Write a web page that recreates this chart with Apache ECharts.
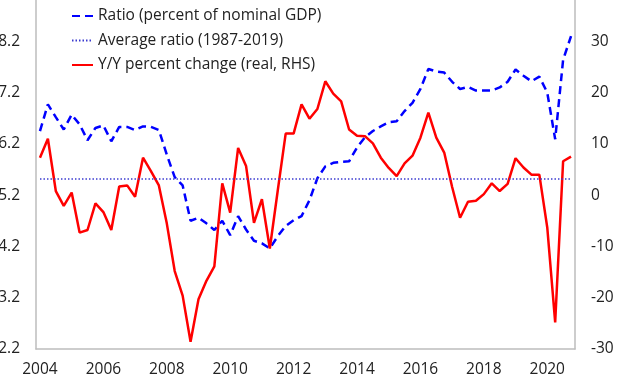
<!DOCTYPE html>
<html>
<head>
<meta charset="utf-8">
<script src="https://cdn.jsdelivr.net/npm/echarts@6/dist/echarts.min.js"></script>
<style>
  html, body { margin: 0; padding: 0; background: #ffffff; }
  #chart { width: 618px; height: 383px; }
</style>
</head>
<body>
<div id="chart"></div>
<script>
// Quarterly categories, 2004 Q1 through 2020 Q4
const firstYear = 2004;
const lastYear = 2020;
const quarters = [];
for (let y = firstYear; y <= lastYear; y++) {
  for (let q = 1; q <= 4; q++) quarters.push(y + 'Q' + q);
}

// Ratio (percent of nominal GDP), left axis
const ratio = [
  6.45, 6.97, 6.72, 6.48, 6.77, 6.58, 6.27, 6.51,
  6.56, 6.25, 6.53, 6.53, 6.47, 6.54, 6.53, 6.47,
  5.99, 5.55, 5.39, 4.70, 4.76, 4.65, 4.52, 4.70,
  4.42, 4.79, 4.53, 4.31, 4.26, 4.16, 4.40, 4.60,
  4.71, 4.79, 5.10, 5.53, 5.76, 5.83, 5.85, 5.86,
  6.13, 6.33, 6.45, 6.54, 6.62, 6.64, 6.84, 7.00,
  7.27, 7.66, 7.61, 7.59, 7.41, 7.27, 7.31, 7.24,
  7.24, 7.24, 7.30, 7.41, 7.65, 7.53, 7.42, 7.51,
  7.20, 6.29, 7.84, 8.30
];

// Average ratio, 1987-2019
const averageRatio = 5.52;

// Y/Y percent change (real), right axis
const yoyChange = [
  7.3, 11.0, 0.8, -2.1, 0.5, -7.3, -6.8, -1.6,
  -3.3, -6.8, 1.7, 1.9, -0.3, 7.3, 4.7, 1.9,
  -5.5, -14.8, -19.6, -28.6, -20.3, -16.7, -13.9, 2.3,
  -3.4, 9.2, 5.7, -5.4, -0.8, -10.4, 0.9, 12.0,
  12.0, 17.7, 14.9, 16.8, 22.2, 19.8, 18.3, 12.8,
  11.6, 11.5, 10.1, 7.3, 5.3, 3.7, 6.2, 7.7,
  11.2, 16.1, 11.2, 8.3, 1.6, -4.4, -1.3, -1.1,
  0.2, 2.3, 0.8, 2.2, 7.2, 5.4, 4.0, 4.0,
  -6.3, -24.8, 6.6, 7.5
];

// Tick labels
const leftTicks = [2.2, 3.2, 4.2, 5.2, 6.2, 7.2, 8.2];
const rightTicks = [-30, -20, -10, 0, 10, 20, 30];

const FONT = 'Open Sans';
const TEXT = '#222222';
const AXIS = '#bdbdbd';

const chart = echarts.init(document.getElementById('chart'), null, { renderer: 'canvas' });

chart.setOption({
  animation: false,
  backgroundColor: '#ffffff',
  textStyle: { fontFamily: FONT },
  grid: { left: 36, right: 43, top: -10, bottom: 34, outerBoundsMode: 'none', containLabel: false },
  legend: {
    orient: 'vertical',
    left: 71,
    top: 8,
    padding: 0,
    itemWidth: 21,
    itemHeight: 10,
    itemGap: 8.5,
    itemStyle: { opacity: 0 },
    textStyle: { fontFamily: FONT, fontSize: 15.5, color: TEXT },
    data: ['Ratio (percent of nominal GDP)', 'Average ratio (1987-2019)', 'Y/Y percent change (real, RHS)']
  },
  xAxis: {
    type: 'category',
    data: quarters,
    boundaryGap: true,
    axisLine: { onZero: false, lineStyle: { color: AXIS, width: 1.5 } },
    axisTick: { show: false },
    splitLine: { show: false },
    axisLabel: {
      interval: (index) => index % 8 === 0,
      formatter: (value) => value.slice(0, 4),
      fontFamily: FONT,
      fontSize: 15.5,
      color: TEXT,
      margin: 13
    }
  },
  yAxis: [
    {
      type: 'value',
      min: 2.2,
      max: 9.2,
      position: 'left',
      axisLine: { show: true, onZero: false, lineStyle: { color: AXIS, width: 1.5 } },
      axisTick: { show: false },
      splitLine: { show: false },
      axisLabel: {
        customValues: leftTicks,
        formatter: (v) => v.toFixed(1),
        fontFamily: FONT,
        fontSize: 15.5,
        color: TEXT,
        margin: 16
      }
    },
    {
      type: 'value',
      min: -30,
      max: 40,
      position: 'right',
      axisLine: { show: true, onZero: false, lineStyle: { color: AXIS, width: 1.5 } },
      axisTick: { show: false },
      splitLine: { show: false },
      axisLabel: {
        customValues: rightTicks,
        formatter: (v) => String(v),
        fontFamily: FONT,
        fontSize: 15.5,
        color: TEXT,
        margin: 16
      }
    }
  ],
  series: [
    {
      name: 'Ratio (percent of nominal GDP)',
      type: 'line',
      yAxisIndex: 0,
      data: ratio,
      symbol: 'none',
      color: '#0000ff',
      lineStyle: { color: '#0000ff', width: 2.5, type: [8, 5] },
      z: 3
    },
    {
      name: 'Average ratio (1987-2019)',
      type: 'line',
      yAxisIndex: 0,
      data: [],
      symbol: 'none',
      color: '#3a3ad0',
      lineStyle: { color: '#3a3ad0', width: 1.5, type: [1.5, 2] },
      markLine: {
        silent: true,
        symbol: ['none', 'none'],
        label: { show: false },
        lineStyle: { color: '#3a3ad0', width: 1.5, type: [1.5, 2] },
        data: [[
          { coord: [quarters[0], averageRatio] },
          { coord: [quarters[quarters.length - 1], averageRatio] }
        ]]
      },
      z: 2
    },
    {
      name: 'Y/Y percent change (real, RHS)',
      type: 'line',
      yAxisIndex: 1,
      data: yoyChange,
      symbol: 'none',
      color: '#ff0000',
      lineStyle: { color: '#ff0000', width: 2.5 },
      z: 4
    }
  ]
});
</script>
</body>
</html>
